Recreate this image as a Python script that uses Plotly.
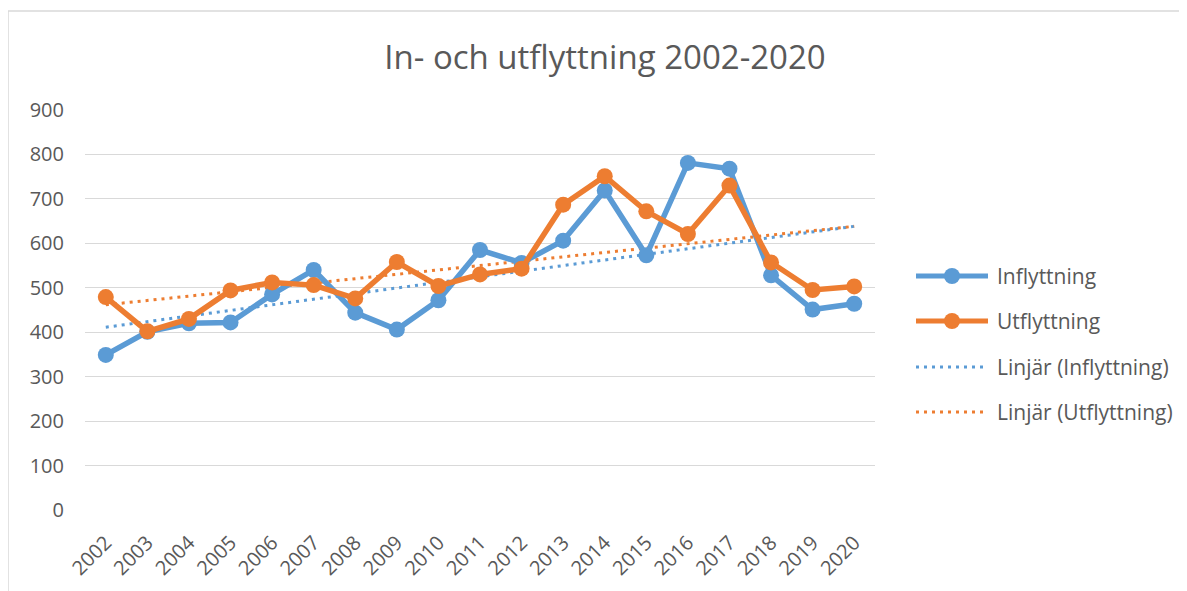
import numpy as np
import plotly.graph_objects as go

years = [str(y) for y in range(2002, 2021)]
inflyttning = [349, 401, 420, 422, 485, 540, 444, 406, 472, 585, 556, 606, 719, 573, 781, 768, 528, 451, 464]
utflyttning = [479, 402, 430, 494, 512, 506, 476, 558, 504, 530, 543, 687, 751, 672, 621, 730, 557, 495, 503]
yticks = [0, 100, 200, 300, 400, 500, 600, 700, 800, 900]
legend_names = ["Inflyttning", "Utflyttning", "Linjär (Inflyttning)", "Linjär (Utflyttning)"]

BLUE = "#5B9BD5"
ORANGE = "#ED7D31"
TXT = "#595959"
FONT = "Open Sans"
DOTS = "3px,5px"

# page body has an 8px margin; work in screen coordinates and convert
OFF = 8
W, H = 1187, 591
L, T = 85 - OFF, 110 - OFF
R = W - (875 - OFF)
B = H - (510 - OFF)
PW, PH = W - L - R, H - T - B

def px(sx):
    return (sx - OFF - L) / PW

def py(sy):
    return (H - B - (sy - OFF)) / PH

idx = np.arange(len(years))
tb = np.polyval(np.polyfit(idx, inflyttning, 1), idx)
to = np.polyval(np.polyfit(idx, utflyttning, 1), idx)

fig = go.Figure()
fig.add_trace(go.Scatter(x=years, y=tb, name=legend_names[2], mode="lines",
                         line=dict(color=BLUE, width=3, dash=DOTS), showlegend=False))
fig.add_trace(go.Scatter(x=years, y=to, name=legend_names[3], mode="lines",
                         line=dict(color=ORANGE, width=3, dash=DOTS), showlegend=False))
fig.add_trace(go.Scatter(x=years, y=inflyttning, name=legend_names[0], mode="lines+markers",
                         line=dict(color=BLUE, width=5.5), marker=dict(size=16, color=BLUE),
                         showlegend=False))
fig.add_trace(go.Scatter(x=years, y=utflyttning, name=legend_names[1], mode="lines+markers",
                         line=dict(color=ORANGE, width=5.5), marker=dict(size=16, color=ORANGE),
                         showlegend=False))

fig.update_layout(
    width=W, height=H,
    paper_bgcolor="white", plot_bgcolor="white",
    margin=dict(l=L, r=R, t=T, b=B, autoexpand=False),
    font=dict(family=FONT, color=TXT, size=20),
    title=dict(text="In- och utflyttning 2002-2020", x=(605 - OFF) / W, xref="container",
               xanchor="center", y=1 - (57 - OFF) / H, yref="container", yanchor="middle",
               font=dict(size=33, color=TXT, family=FONT)),
    showlegend=False,
)
fig.update_xaxes(type="category", categoryorder="array", categoryarray=years,
                 range=[-0.5, len(years) - 0.5], autorange=False,
                 tickangle=-45, showgrid=False, showline=False, zeroline=False, automargin=False,
                 ticks="outside", ticklen=12, tickcolor="rgba(0,0,0,0)",
                 tickfont=dict(size=20, color=TXT, family=FONT))
fig.update_yaxes(range=[0, 900], tickvals=yticks, showgrid=True, gridcolor="#D9D9D9", gridwidth=1.3,
                 zeroline=False, showline=False, automargin=False,
                 ticks="outside", ticklen=16, tickcolor="rgba(0,0,0,0)",
                 tickfont=dict(size=20, color=TXT, family=FONT))

# chart-area border
fig.add_shape(type="rect", xref="paper", yref="paper",
              x0=px(8), x1=px(1210), y0=py(620), y1=py(11),
              line=dict(color="#D9D9D9", width=1.5), fillcolor="rgba(0,0,0,0)", layer="below")

# manual legend (Excel style: long symbol lines)
leg_y = [276, 321, 367, 412]
leg_col = [BLUE, ORANGE, BLUE, ORANGE]
x0s, x1s = 916, 988
for i, (name, col, yy) in enumerate(zip(legend_names, leg_col, leg_y)):
    if i < 2:
        fig.add_shape(type="line", xref="paper", yref="paper",
                      x0=px(x0s), x1=px(x1s), y0=py(yy), y1=py(yy),
                      line=dict(color=col, width=5))
        fig.add_shape(type="circle", xref="paper", yref="paper",
                      x0=px(952 - 8), x1=px(952 + 8), y0=py(yy - 8), y1=py(yy + 8),
                      line=dict(color=col, width=0), fillcolor=col)
    else:
        fig.add_shape(type="line", xref="paper", yref="paper",
                      x0=px(x0s), x1=px(x1s), y0=py(yy), y1=py(yy),
                      line=dict(color=col, width=3, dash=DOTS))
    fig.add_annotation(x=px(995), y=py(yy), xref="paper", yref="paper",
                       text=name, showarrow=False, xanchor="left", yanchor="middle",
                       font=dict(size=21, color=TXT, family=FONT))

fig.write_html("out.html")
